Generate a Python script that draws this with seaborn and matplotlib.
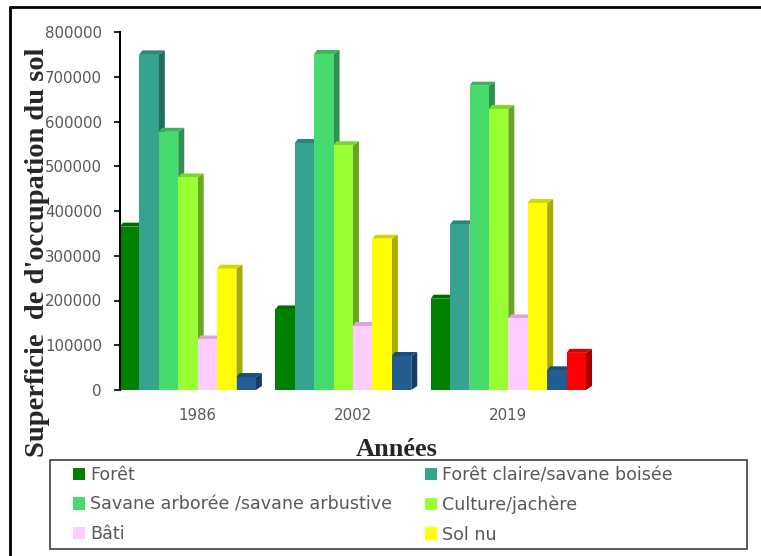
import numpy as np
import pandas as pd
import matplotlib
matplotlib.use("Agg")
import matplotlib.pyplot as plt
import seaborn as sns
from matplotlib.patches import Patch, Polygon, Rectangle
from matplotlib.lines import Line2D

# ---------------- data ----------------
years = ["1986", "2002", "2019"]
classes = ["Forêt", "Forêt claire/savane boisée", "Savane arborée /savane arbustive",
           "Culture/jachère", "Bâti", "Sol nu", "Série 7", "Série 8"]
foret = [365000, 180000, 204000]
foret_claire = [750000, 552000, 370000]
savane = [577000, 751000, 680000]
culture = [475000, 547000, 628000]
bati = [113000, 143000, 160000]
sol_nu = [271000, 338000, 418000]
serie7 = [29000, 76000, 44000]
serie8 = [np.nan, np.nan, 83000]
yticks = [0, 100000, 200000, 300000, 400000, 500000, 600000, 700000, 800000]

series = [foret, foret_claire, savane, culture, bati, sol_nu, serie7, serie8]
rows = []
for cls, vals in zip(classes, series):
    for yr, v in zip(years, vals):
        rows.append({"Année": yr, "Classe": cls, "Superficie": v})
df = pd.DataFrame(rows)

# ---------------- style ----------------
front = ["#008000", "#36A38F", "#47DA6D", "#99FF33", "#FFCCFF", "#FFFF00", "#225E93", "#FF0000"]
topc = ["#006C00", "#2A8777", "#3BB55A", "#80D52A", "#D9A8D9", "#D6D600", "#1B4E7A", "#D40000"]
sidec = ["#005A00", "#226B5E", "#2E9150", "#66A622", "#C497C4", "#AAAA00", "#163E62", "#A00000"]

sns.set_style("white")
plt.rcParams["font.family"] = ["DejaVu Sans"]

W, H = 761, 556
fig = plt.figure(figsize=(W / 100, H / 100), dpi=100)
ax = fig.add_axes([120 / W, 1 - 390 / H, (586 - 120) / W, (390 - 32) / H])

sns.barplot(data=df, x="Année", y="Superficie", hue="Classe", hue_order=classes,
            order=years, palette=front, width=1.0, gap=0, dodge=True,
            errorbar=None, linewidth=0, legend=False, ax=ax, saturation=1)

ax.set_xlim(-0.5, 2.5)
ax.set_ylim(0, 800000)
ax.set_yticks(yticks)
ax.set_yticklabels([str(t) for t in yticks])
ax.set_xlabel("")
ax.set_ylabel("")
for s in ["top", "right", "bottom"]:
    ax.spines[s].set_visible(False)
ax.spines["left"].set_color("black")
ax.spines["left"].set_linewidth(1.5)
ax.spines["left"].set_zorder(6)
ax.tick_params(axis="y", colors="#595959", labelsize=10.8, length=4, width=1.2,
               direction="out", pad=9, left=True)
ax.tick_params(axis="y", color="black")
ax.tick_params(axis="x", colors="#595959", labelsize=10.8, length=0, pad=13)

# ---------------- 3D faces derived from the bar geometry ----------------
fig.canvas.draw()
dx_px, dy_px = 6.0, 4.0
inv = ax.transData.inverted()
p0 = inv.transform((0, 0))
p1 = inv.transform((dx_px, dy_px))
ddx, ddy = p1[0] - p0[0], p1[1] - p0[1]

bars = [p for p in ax.patches if isinstance(p, Rectangle)]
nyear = len(years)
for i, b in enumerate(bars):
    h = b.get_height()
    if h is None or not np.isfinite(h) or h <= 0:
        continue
    k = i // nyear  # hue index
    x0 = b.get_x()
    x1 = x0 + b.get_width()
    b.set_zorder(3)
    top = Polygon([(x0, h), (x1, h), (x1 + ddx, h + ddy), (x0 + ddx * 0.5, h + ddy)],
                  closed=True, facecolor=topc[k], edgecolor="none", zorder=2, clip_on=False)
    side = Polygon([(x1, 0), (x1 + ddx, ddy), (x1 + ddx, h + ddy), (x1, h)],
                   closed=True, facecolor=sidec[k], edgecolor="none", zorder=2, clip_on=False)
    ax.add_patch(side)
    ax.add_patch(top)

# ---------------- texts ----------------
fig.text(38 / W, 1 - 252 / H, "Superficie  de d'occupation du sol", rotation=90,
         ha="center", va="center", fontsize=20.5, fontweight="bold",
         family=["Liberation Serif"], color="#262626")
fig.text(397 / W, 1 - 450 / H, "Années", ha="center", va="center", fontsize=19,
         fontweight="bold", family=["Liberation Serif"], color="#262626")

# ---------------- legend ----------------
order = [0, 2, 4, 1, 3, 5]
handles = [Patch(facecolor=front[k], edgecolor="none", label=classes[k]) for k in order]
leg = fig.legend(handles=handles, loc="upper left", bbox_to_anchor=(73 / W, 1 - 466 / H),
                 ncol=2, frameon=False, fontsize=12.6, handlelength=0.7, handleheight=0.7,
                 handletextpad=0.3, labelspacing=0.66, columnspacing=1.85,
                 borderpad=0, borderaxespad=0, labelcolor="#595959")
fig.patches.append(Rectangle((50 / W, 1 - 549 / H), (747 - 50) / W, (549 - 460) / H,
                             transform=fig.transFigure, fill=False, edgecolor="#404040",
                             linewidth=1.2))

# outer frame (top + left)
fig.lines.append(Line2D([10 / W, 1.0], [1 - 7 / H, 1 - 7 / H], transform=fig.transFigure,
                        color="black", linewidth=2))
fig.lines.append(Line2D([10 / W, 10 / W], [1 - 7 / H, 0.0], transform=fig.transFigure,
                        color="black", linewidth=2))

fig.savefig("out.png", dpi=100, facecolor="white")
